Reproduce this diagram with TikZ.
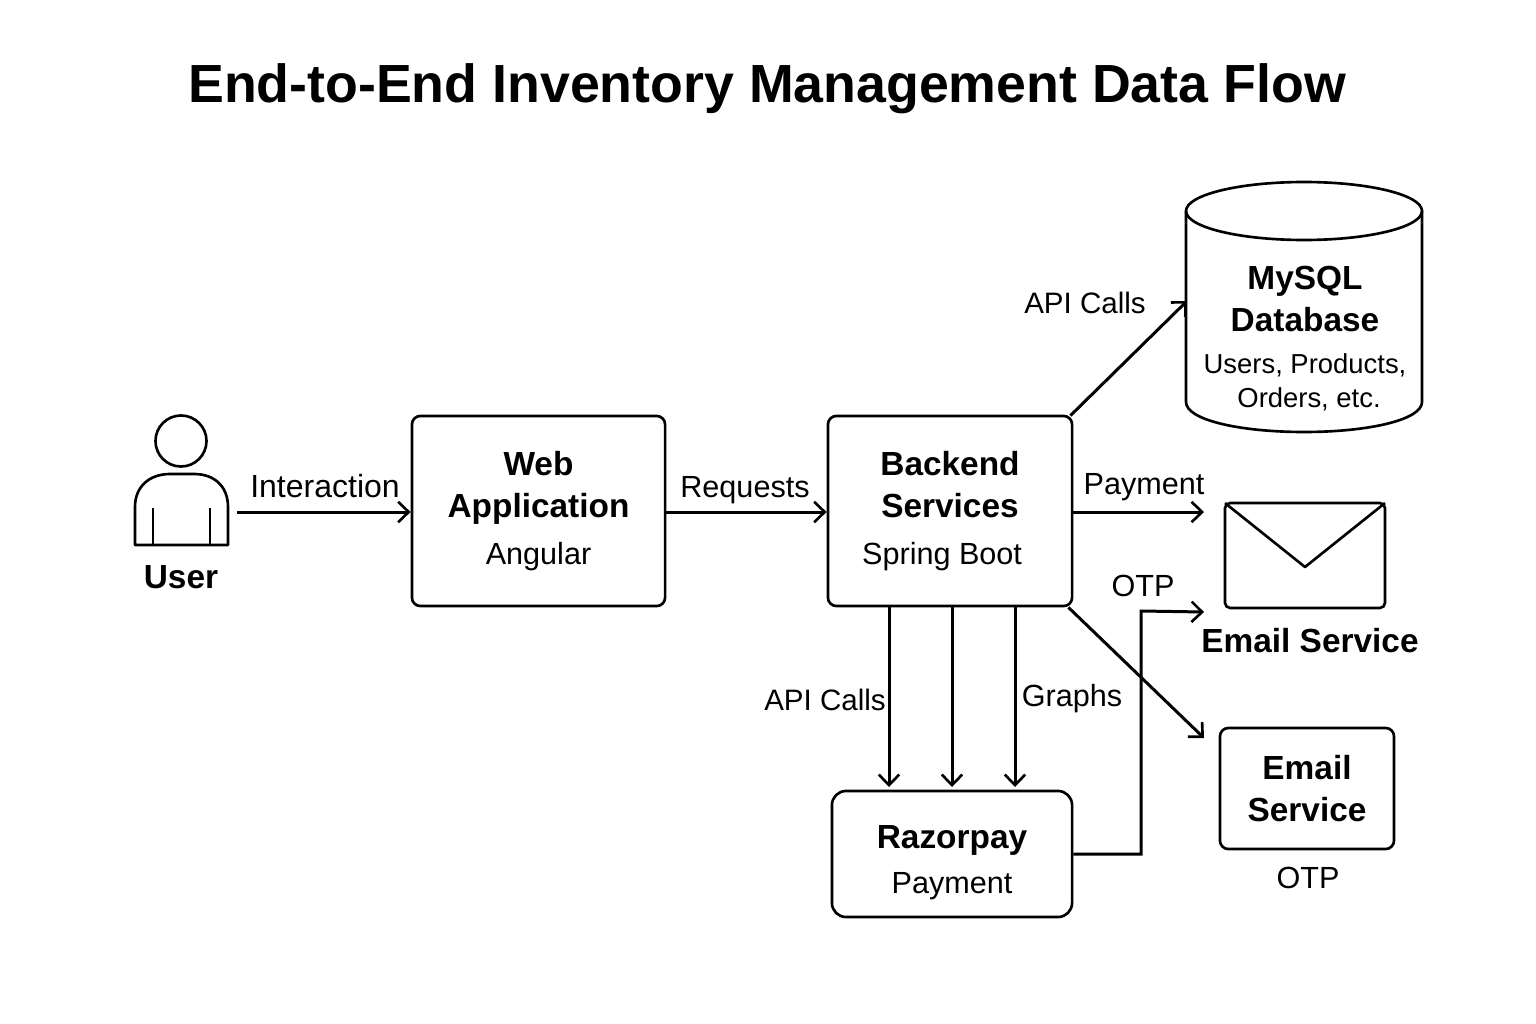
\documentclass[tikz,border=0pt]{standalone}
\usepackage{fontspec}
\setmainfont{Liberation Sans}
\usetikzlibrary{arrows.meta}
\newcommand{\titlefont}{\fontsize{15.27}{18}\selectfont\bfseries}
\newcommand{\headfont}{\fontsize{9.5}{11.7}\selectfont\bfseries}
\newcommand{\subfont}{\fontsize{8.7}{9.8}\selectfont\mdseries}
\newcommand{\smallfont}{\fontsize{7.8}{9.7}\selectfont\mdseries}
\tikzset{
	x=0.01cm,y=-0.01cm,
	flow/.style={line width=0.85pt,-{Straight Barb[length=3pt,width=5.8pt,line width=0.75pt]}},
	boxnode/.style={draw,rounded corners=2.4pt,align=center,inner sep=0pt},
	head/.style={font=\headfont,align=center,inner sep=0pt},
	lbl/.style={font=\subfont,align=center,inner sep=0pt}
}
\begin{document}
\begin{tikzpicture}[line width=0.75pt]
		\useasboundingbox (0,0) rectangle (1536,1024);
		\node [font=\titlefont,inner sep=0pt] (title) at (767,89) {End-to-End Inventory Management Data Flow};
		% user
		\node [draw,circle,minimum size=0.51cm,inner sep=0pt] (head) at (181,441) {};
		\draw [line join=round] (135,545) -- (135,507) .. controls (135,486) and (150,474) .. (170,474) -- (194,474) .. controls (214,474) and (228,486) .. (228,507) -- (228,545) -- cycle;
		\draw [line width=0.85pt] (153,508) -- (153,545);
		\draw [line width=0.85pt] (210,508) -- (210,545);
		\node [head] (user) at (181,577) {User};
		\coordinate (userout) at (237,512);
		% boxes
		\node [boxnode,minimum width=2.53cm,minimum height=1.9cm] (web) at (538.5,511) {\headfont Web\\\headfont Application\\[1.5pt]\subfont Angular};
		\node [boxnode,minimum width=2.44cm,minimum height=1.9cm] (backend) at (950,511) {\headfont Backend\\\headfont Services\\[1.5pt]\subfont Spring Boot\hspace*{4.5pt}};
		\node [boxnode,rounded corners=4pt,minimum width=2.4cm,minimum height=1.26cm] (razor) at (952,854) {\headfont\rule{0pt}{11.5pt}Razorpay\\[1pt]\subfont Payment};
		\node [boxnode,minimum width=1.74cm,minimum height=1.21cm] (mail) at (1307,788.5) {\headfont Email\\\headfont Service};
		\node [lbl] (otpb) at (1308,878) {OTP};
		% database
		\draw (1186,211) -- (1186,402) .. controls (1186,420) and (1240,432) .. (1304,432) .. controls (1368,432) and (1422,420) .. (1422,402) -- (1422,211);
		\draw (1304,211) ellipse [x radius=118,y radius=29];
		\node [head] (mysql) at (1305,299) {MySQL\\\headfont Database};
		\node [font=\smallfont,align=center,inner sep=0pt] (dbtext) at (1305,382) {Users, Products,\\\smallfont\hspace*{2.3pt}Orders, etc.};
		\coordinate (dbin) at (1187,301);
		% envelope
		\node [draw,rounded corners=1.5pt,minimum width=1.6cm,minimum height=1.05cm,inner sep=0pt] (env) at (1305,555.5) {};
		\draw [line join=round] ([xshift=.4pt,yshift=-.4pt]env.north west) -- (1305,567) -- ([xshift=-.4pt,yshift=-.4pt]env.north east);
		\node [head] (envname) at (1310,641) {Email Service};
		\coordinate (envin) at (1204,512);
		\coordinate (otpin) at (1204,612);
		\coordinate (bend) at (1141,611);
		\coordinate (mailin) at (1204,738);
		\coordinate (downa) at (889,787);
		\coordinate (downb) at (952,787);
		\coordinate (downc) at (1015,787);
		% connectors
		\draw [flow] (userout) -- (web.west |- userout);
		\draw [flow] (web.east |- userout) -- (backend.west |- userout);
		\draw [flow] (backend.north east) ++(-3,1) -- (dbin);
		\draw [flow] (backend.east |- envin) -- (envin);
		\draw [flow] (backend.south east) ++(-5,0) -- (mailin);
		\foreach \n in {downa,downb,downc}
			\draw [flow] (backend.south -| \n) -- (\n);
		\draw [flow] (razor.east) -| (bend) -- (otpin);
		% arrow labels
		\node [lbl,font=\fontsize{9.1}{10}\selectfont] (linter) at (325,486) {Interaction};
		\node [lbl] (lreq) at (745,490) {Requests};
		\node [lbl,font=\fontsize{8.4}{10}\selectfont] (lapia) at (1085,303) {API Calls};
		\node [lbl] (lpay) at (1144,487) {Payment};
		\node [lbl] (lotp) at (1143,586) {OTP};
		\node [lbl,font=\fontsize{8.4}{10}\selectfont] (lapib) at (825,700) {API Calls};
		\node [lbl] (lgraph) at (1072,699) {Graphs};
	\end{tikzpicture}
\end{document}
